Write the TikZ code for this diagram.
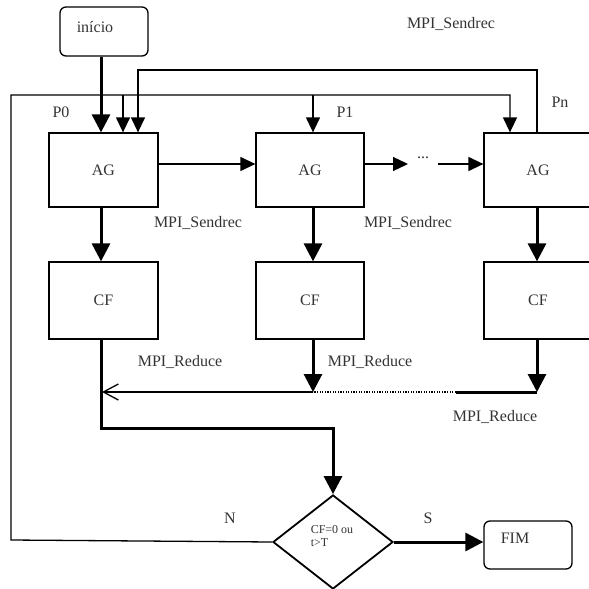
\documentclass[tikz,border=0pt]{standalone}
\usepackage{fontspec}
\setmainfont{Liberation Serif}
\usetikzlibrary{arrows.meta,shapes.geometric}
\begin{document}
\begin{tikzpicture}[x=1pt,y=-1pt,
  every node/.style={font=\fontsize{16}{19}\selectfont, text=black!80},
  box/.style={draw, line width=1.3pt, inner sep=0pt},
  rbox/.style={draw, line width=1.3pt, rounded corners=6pt, inner sep=0pt},
  lbl/.style={inner sep=0pt, text height=10.6pt, text depth=0pt},
  thinarr/.style={line width=1.3pt, -{Triangle[length=15pt,width=14pt]}},
  bigarr/.style={line width=3pt, -{Triangle[length=18pt,width=18pt]}},
  thinline/.style={line width=1.3pt},
  thickline/.style={line width=3pt}]
\useasboundingbox (0,0) rectangle (589,589);

% nodes
\node[rbox, minimum width=88pt, minimum height=49pt,
      label={[xshift=-9pt,yshift=4.5pt]center:início}] (inicio) at (104,31.5) {};
\node[box, minimum width=109pt, minimum height=74pt] (ag1) at (103.5,170) {AG};
\node[box, minimum width=108pt, minimum height=74pt] (ag2) at (310,170) {AG};
\node[box, minimum width=108pt, minimum height=74pt] (ag3) at (538,170) {AG};
\node[box, minimum width=109pt, minimum height=77pt] (cf1) at (103.5,300.5) {CF};
\node[box, minimum width=108pt, minimum height=77pt] (cf2) at (310,300.5) {CF};
\node[box, minimum width=108pt, minimum height=77pt] (cf3) at (538,300.5) {CF};
\node[diamond, draw, line width=1.8pt, minimum width=120pt, minimum height=94pt, inner sep=0pt,
      label={[yshift=5.5pt, xshift=-1pt, align=left, font=\fontsize{12}{13}\selectfont]center:{CF=0 ou\\t>T}}] (dec) at (333,542) {};
\node[rbox, minimum width=88pt, minimum height=48pt,
      label={[xshift=-13pt,yshift=7pt]center:FIM}] (fim) at (528,545) {};
\node[anchor=base] (dots) at (423,158) {...};

% labels
\node[lbl] (s0) at (451,23) {MPI\_Sendrec};
\node[lbl] (s1) at (198,222) {MPI\_Sendrec};
\node[lbl] (s2) at (408,222) {MPI\_Sendrec};
\node[lbl] (r1l) at (180,361.5) {MPI\_Reduce};
\node[lbl] (r2l) at (370,361.5) {MPI\_Reduce};
\node[lbl] (r3l) at (495,416.5) {MPI\_Reduce};
\node[lbl] (p0) at (61,112) {P0};
\node[lbl] (p1) at (345,112) {P1};
\node[lbl] (pn) at (560,102) {Pn};
\node[lbl] (nl) at (230,518.5) {N};
\node[lbl] (sl) at (428,518.5) {S};

% coordinates
\coordinate (c1) at (101,0);
\coordinate (c2) at (313,0);
\coordinate (c3) at (537,0);
\coordinate (c4) at (510,0);
\coordinate (c5) at (138,0);
\coordinate (h) at (0,164);
\coordinate (nbl) at (11,540);
\coordinate (ntl) at (11,95);
\coordinate (b1) at (123,95);
\coordinate (b2) at (313,95);
\coordinate (ptop) at (537,70);
\coordinate (r1) at (102,392);
\coordinate (r2) at (313,392);
\coordinate (r3) at (537,392);
\coordinate (rs) at (456,392);
\coordinate (j) at (101,428);
\coordinate (d1) at (408,164);
\coordinate (d2) at (438,164);

% loops
\draw[thinarr] (dec.west) -- (nbl) -- (ntl) -| (c4 |- ag3.north);
\draw[thinarr] (b1) -- (b1 |- ag1.north);
\draw[thinarr] (b2) -- (b2 |- ag2.north);
\draw[thinarr] (c3 |- ag3.north) -- (ptop) -| (c5 |- ag1.north);

% start
\draw[bigarr] (c1 |- inicio.south) -- (c1 |- ag1.north);

% AG chain
\draw[thinarr] (ag1.east |- h) -- (ag2.west |- h);
\draw[thinarr] (ag2.east |- h) -- (d1);
\draw[thinarr] (d2) -- (ag3.west |- h);

% AG -> CF
\draw[bigarr] (c1 |- ag1.south) -- (c1 |- cf1.north);
\draw[bigarr] (c2 |- ag2.south) -- (c2 |- cf2.north);
\draw[bigarr] (c3 |- ag3.south) -- (c3 |- cf3.north);

% reduce
\draw[bigarr] (c2 |- cf2.south) -- (r2);
\draw[bigarr] (c3 |- cf3.south) -- (r3);
\draw[thickline] (r3) -- (rs);
\draw[line width=1.3pt, dash pattern=on 1.3pt off 1.3pt] (rs) -- (r2);
\draw[line width=1.3pt, -{Straight Barb[length=15pt,width=16pt]}] (r2) -- (r1);
\draw[bigarr] (c1 |- cf1.south) -- (j) -| (dec.north);

% decision -> end
\draw[bigarr] (dec.east) -- (dec.east -| fim.west);
\end{tikzpicture}
\end{document}
